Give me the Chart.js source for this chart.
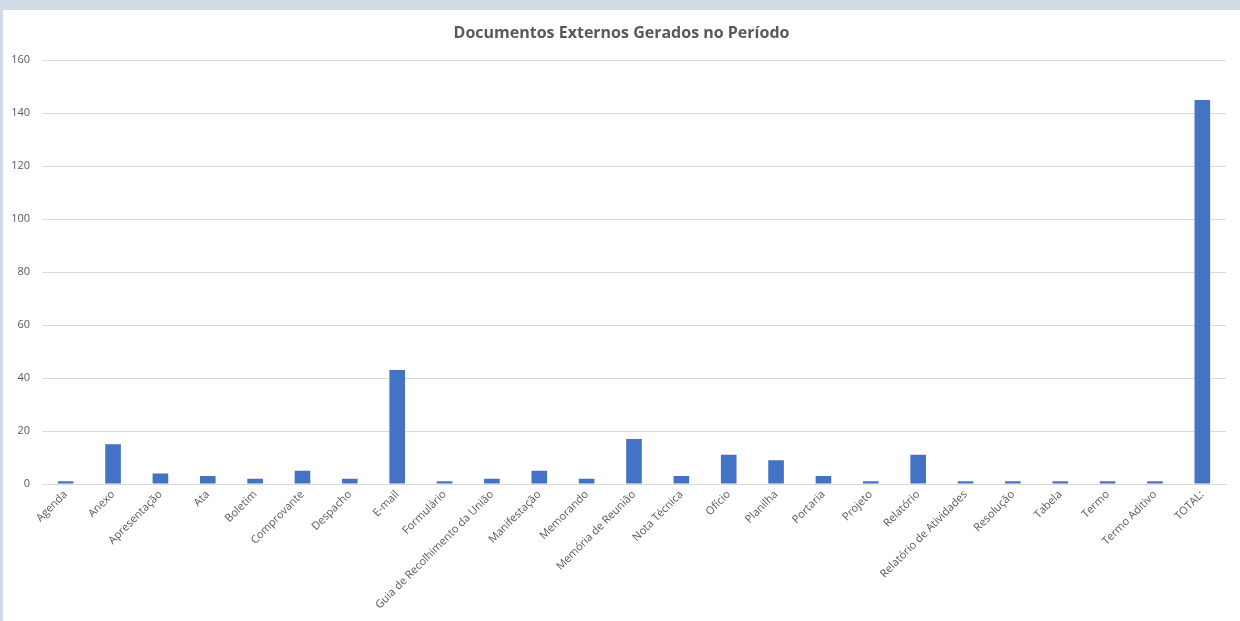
<!DOCTYPE html>
<html>
<head>
<meta charset="utf-8">
<script src="https://cdn.jsdelivr.net/npm/chart.js@4/dist/chart.umd.min.js"></script>
<style>
  html, body { margin: 0; padding: 0; }
  body { width: 1240px; height: 621px; background: #cfdce8; position: relative; overflow: hidden; }
  #panel { position: absolute; left: 3px; top: 10px; width: 1237px; height: 611px; background: #ffffff; }
</style>
</head>
<body>
<div id="panel"><canvas id="chart" width="1237" height="611"></canvas></div>
<script>
// Document types issued in the period
const categories = [
  "Agenda", "Anexo", "Apresentação", "Ata", "Boletim", "Comprovante", "Despacho",
  "E-mail", "Formulário", "Guia de Recolhimento da União", "Manifestação", "Memorando",
  "Memória de Reunião", "Nota Técnica", "Ofício", "Planilha", "Portaria", "Projeto",
  "Relatório", "Relatório de Atividades", "Resolução", "Tabela", "Termo", "Termo Aditivo",
  "TOTAL:"
];
const counts = [1, 15, 4, 3, 2, 5, 2, 43, 1, 2, 5, 2, 17, 3, 11, 9, 3, 1, 11, 1, 1, 1, 1, 1, 145];
const yTicks = [0, 20, 40, 60, 80, 100, 120, 140, 160];

const FONT = "'Open Sans', 'Noto Sans', sans-serif";
const TEXT = "#595959";

new Chart(document.getElementById("chart"), {
  type: "bar",
  data: {
    labels: categories,
    datasets: [{
      data: counts,
      backgroundColor: "#4472c4",
      borderWidth: 0,
      categoryPercentage: 1.0,
      barPercentage: 0.33
    }]
  },
  options: {
    responsive: false,
    animation: false,
    layout: { padding: 0 },
    plugins: {
      legend: { display: false },
      tooltip: { enabled: false },
      title: {
        display: true,
        text: "Documentos Externos Gerados no Período",
        color: TEXT,
        font: { family: FONT, size: 16, weight: "bold" },
        padding: { top: 14, bottom: 17 }
      }
    },
    scales: {
      x: {
        grid: { display: false, drawTicks: false },
        border: { display: true, color: "#d9d9d9" },
        ticks: {
          color: TEXT,
          font: { family: FONT, size: 11 },
          minRotation: 45,
          maxRotation: 45,
          autoSkip: false,
          padding: 4
        },
        afterFit: (scale) => { scale.height = 137; }
      },
      y: {
        min: 0,
        max: 160,
        afterBuildTicks: (scale) => { scale.ticks = yTicks.map(v => ({ value: v })); },
        grid: { color: "#d9d9d9", drawTicks: false },
        border: { display: false },
        ticks: {
          color: TEXT,
          font: { family: FONT, size: 11 },
          padding: 12
        },
        afterFit: (scale) => { scale.width = 39; }
      },
      // empty right-hand margin axis
      yRight: {
        position: "right",
        min: 0,
        max: 160,
        grid: { display: false, drawTicks: false },
        border: { display: false },
        ticks: { display: false },
        afterFit: (scale) => { scale.width = 14; }
      }
    }
  }
});
</script>
</body>
</html>
